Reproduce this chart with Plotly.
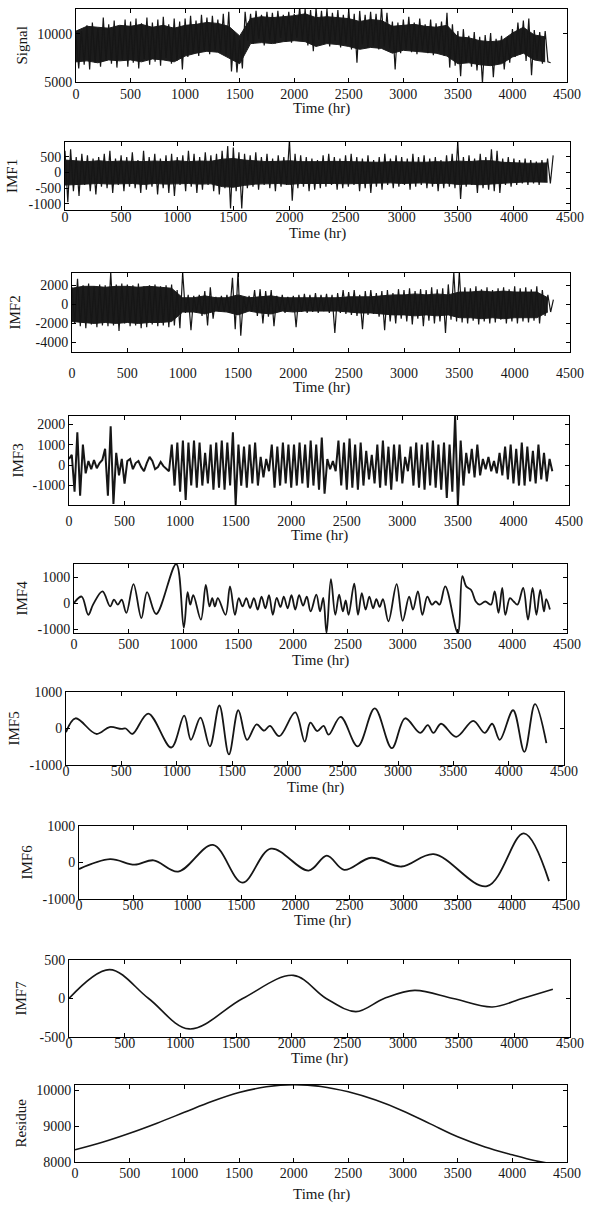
import plotly.graph_objects as go

# ------------------------------------------------------------------
# DATA
# ------------------------------------------------------------------
dense_step_hr = 25   # spacing (hr) of the sampled peak/trough series below
core_step_hr = 100   # spacing (hr) of the read solid-core limits below

signal = [
    9800, 6400, 10300, 6800, 10900, 6300, 11200, 7000, 10600, 6600, 11700, 7200, 11000, 6900, 11400, 6500, 10800, 7300, 11500, 6600,
    11300, 7000, 11600, 6400, 11100, 7400, 11700, 6800, 11200, 7100, 11500, 6700, 11800, 7500, 11000, 6900, 11600, 7200, 11300, 6300,
    11600, 7600, 11900, 8000, 11400, 7700, 12000, 8200, 11700, 7900, 11900, 8300, 11500, 8100, 12100, 7800, 12300, 6100, 10200, 6000,
    9400, 6400, 12300, 9300, 12100, 9000, 12400, 9500, 12000, 8800, 12300, 9400, 12200, 9000, 12400, 9600, 12000, 9200, 12300, 9100,
    12100, 9600, 12800, 9300, 12600, 8800, 12500, 8200, 12700, 9400, 12400, 9000, 12600, 8700, 12200, 9300, 12500, 8600, 12000, 9000,
    12600, 8400, 12100, 7000, 12400, 8900, 12000, 8600, 12300, 8800, 12100, 8400, 12800, 8700, 12200, 8500, 11300, 6300, 11200, 8000,
    11500, 8400, 11800, 8100, 11200, 7900, 11600, 8300, 11000, 8000, 11500, 7800, 11100, 8200, 11300, 7700, 12200, 6500, 11000, 6700,
    10300, 5600, 10500, 7000, 9800, 6600, 10200, 6200, 9700, 4900, 9900, 6800, 10100, 5500, 9500, 6900, 9800, 6300, 9600, 7000,
    10500, 7600, 11200, 7900, 11400, 7200, 11600, 5700, 10400, 7400, 10200, 6900, 10300, 7100, 7000,
]
signal_core_hi = [10300, 10800, 10700, 10600, 10900, 10800, 11000, 10700, 10900, 10600, 10900, 11000, 11200, 11100, 10800,
                  9800, 11600, 11800, 11700, 11800, 11900, 12100, 11700, 11800, 11700, 11600, 11300, 11500, 11400, 10800,
                  10900, 11000, 10800, 10700, 10900, 9700, 9600, 9300, 9200, 9300, 10100, 10700, 9900, 9700]
signal_core_lo = [7100, 7200, 7000, 7300, 7200, 7300, 7100, 7400, 7300, 7100, 7700, 8000, 8200, 8100, 7500,
                  6900, 9000, 9100, 9000, 9200, 9300, 9200, 8700, 9000, 8900, 8700, 8400, 8600, 8500, 8000,
                  8300, 8200, 8100, 8000, 7700, 6900, 7000, 6800, 6700, 6900, 7600, 8000, 7300, 7100]

imf1 = [
    700, -950, 750, -600, 500, -750, 600, -400, 550, -600, 450, -700, 500, -450, 600, -500, 700, -650, 450, -400,
    550, -600, 500, -450, 650, -500, 400, -650, 700, -550, 500, -450, 600, -700, 450, -500, 550, -650, 600, -750,
    500, -400, 550, -600, 700, -450, 600, -650, 500, -550, 650, -400, 550, -600, 600, -700, 700, -500, 850, -1150,
    800, -600, 650, -1150, 600, -500, 550, -450, 650, -550, 500, -400, 600, -500, 450, -600, 550, -450, 500, -400,
    1050, -900, 600, -500, 550, -450, 500, -600, 450, -550, 400, -500, 550, -450, 600, -400, 500, -550, 450, -500,
    550, -450, 600, -400, 500, -600, 450, -500, 550, -650, 400, -450, 500, -550, 600, -400, 450, -500, 550, -450,
    500, -400, 450, -550, 600, -450, 500, -400, 550, -500, 450, -450, 500, -600, 400, -500, 550, -450, 600, -500,
    1000, -850, 500, -450, 550, -400, 450, -650, 600, -500, 500, -550, 750, -600, 700, -650, 450, -400, 500, -450,
    450, -400, 400, -350, 450, -400, 400, -350, 350, -400, 400, -300, 450, -350, 550,
]
imf1_core_hi = [400, 370, 350, 380, 350, 370, 360, 350, 370, 350, 380, 350, 370, 360, 430, 450, 400, 370, 350, 360, 380, 350,
                340, 350, 360, 350, 340, 350, 330, 350, 340, 350, 330, 350, 340, 370, 350, 380, 380, 330, 310, 300, 300, 310]
imf1_core_lo = [-400, -380, -370, -350, -370, -360, -350, -380, -350, -370, -360, -350, -370, -360, -450, -470, -410, -370,
                -360, -350, -380, -350, -350, -340, -350, -360, -350, -340, -350, -330, -350, -340, -330, -350, -340, -380,
                -370, -390, -370, -340, -310, -300, -300, -310]

imf2 = [
    1800, -2000, 2700, -2300, 2000, -2500, 2200, -2100, 1900, -2400, 2100, -2200, 2000, -2300, 3400, -2200, 2100, -2800, 2200, -2000,
    2100, -2300, 2000, -2200, 2200, -2500, 1900, -2400, 2000, -2100, 2100, -2300, 1900, -2200, 2000, -2400, 2100, -2200, 1500, -2500,
    3400, -900, 1000, -2700, 900, -800, 1000, -1200, 1400, -2200, 1800, -1500, 800, -700, 900, -800, 1000, -900, 2800, -2600,
    3400, -3300, 800, -700, 900, -800, 1500, -1200, 1600, -2000, 1400, -1300, 1500, -2300, 900, -800, 1000, -900, 800, -700,
    900, -2400, 1000, -800, 1100, -900, 1000, -800, 1200, -900, 1000, -700, 1100, -900, 1000, -3000, 1200, -900, 1500, -1000,
    1300, -1100, 1500, -1200, 1000, -2600, 1400, -1100, 1500, -1000, 1200, -1300, 1400, -2700, 1500, -1800, 1200, -2000, 1600, -1500,
    1500, -1800, 1700, -2100, 1400, -1500, 1600, -2300, 1500, -1700, 1800, -2000, 1600, -1800, 1700, -3000, 2100, -1600, 3400, -1800,
    3400, -1900, 1800, -2000, 1700, -1700, 1900, -2100, 1600, -1800, 1800, -2000, 1500, -1900, 1700, -1600, 1800, -2000, 1600, -1800,
    1900, -2000, 1700, -1800, 1800, -1900, 1600, -1700, 1900, -2000, 1500, -1200, 1000, -800, 500,
]
imf2_core_hi = [1700, 1900, 1900, 1800, 1900, 1900, 1800, 1900, 1800, 1700, 700, 700, 900, 700, 700, 1000, 700, 800, 900, 700,
                700, 700, 700, 700, 700, 800, 800, 800, 900, 1000, 1000, 1100, 1000, 1100, 1000, 1300, 1300, 1400, 1300, 1400,
                1300, 1300, 1300, 700]
imf2_core_lo = [-1800, -1900, -2000, -1900, -2000, -1900, -2000, -1900, -1900, -1800, -800, -800, -1000, -700, -800, -1100,
                -700, -900, -1000, -700, -800, -700, -700, -700, -700, -800, -900, -900, -1000, -1100, -1100, -1200, -1100,
                -1200, -1100, -1400, -1400, -1500, -1400, -1500, -1400, -1400, -1400, -800]

imf3 = [
    300, 500, -1300, 1600, -1500, 1000, -400, 200, -200, 250, -150, 100, 250, 800, -1500, 1900, -1900, 600, -500, 300,
    -900, 200, 300, -200, 100, 200, -100, -300, 100, 400, 200, -200, -100, 150, -50, -200, -300, 1000, -1000, 1100,
    -1300, 1200, -1700, 1100, -1000, 1200, -1100, 1100, -1000, 600, -900, 1000, -1200, 1100, -1100, 1200, -1200, 1100, -1000, 1600,
    -1950, 1000, -1000, 900, -1100, 1000, -900, 1100, -1000, 400, -600, 300, -300, 1000, -1100, 900, -1000, 1100, -900, 1000,
    -1100, 1000, -1000, 1100, -900, 1000, -1100, 1200, -1000, 1000, -1200, 1350, -1400, 300, -200, 200, -300, 1200, -1000, 1100,
    -1200, 1300, -1100, 1000, -1200, 1100, -1000, 700, -700, 500, -900, 1000, -1100, 1200, -1000, 900, -1200, 1000, -800, 1000,
    -900, 400, -300, 900, -1000, 1100, -1100, 1000, -1200, 1100, -1000, 1200, -1100, 1000, -1200, 1100, -1600, 1000, -1300, 2400,
    -1950, 1200, -1000, 600, -400, 800, -600, 1000, -500, 300, -200, 400, -300, 200, -400, 600, -500, 900, -700, 1000,
    -900, 800, -1000, 1100, -1000, 900, -800, 700, -900, 1000, -700, 600, -800, 300, -300,
]

imf4_t = [0, 70, 130, 175, 260, 330, 365, 400, 435, 478, 543, 615, 667, 750, 933, 1002, 1037, 1061, 1089,
          1158, 1203, 1237, 1262, 1286, 1313, 1383, 1424, 1469, 1504, 1538, 1573, 1607, 1642, 1677, 1712,
          1747, 1780, 1815, 1850, 1885, 1915, 1950, 1985, 2020, 2055, 2091, 2125, 2160, 2212, 2246, 2275,
          2305, 2345, 2385, 2420, 2454, 2480, 2506, 2558, 2592, 2627, 2662, 2696, 2730, 2760, 2790, 2820,
          2870, 2945, 3000, 3059, 3094, 3139, 3180, 3225, 3267, 3302, 3337, 3389, 3503, 3545, 3580, 3625,
          3667, 3702, 3754, 3806, 3840, 3875, 3909, 3937, 3979, 4013, 4048, 4100, 4144, 4186, 4221, 4256,
          4290, 4310, 4344]
imf4_v = [0, 250, -450, -50, 450, -130, 130, -60, 130, -380, 730, -580, 420, -420, 1500, -950, 420, -60, 300,
          -640, 700, -130, 190, -130, 190, -450, 640, -450, 190, -130, 190, -190, 190, -250, 250,
          -200, 300, -450, 200, -150, 250, -200, 300, -250, 300, -100, 250, -320, 320, -320, 200,
          -1150, 920, -450, 320, -320, 100, -450, 750, -450, 380, -250, 250, -200, 150, -150, 150,
          -700, 730, -680, 250, -250, 450, -450, 250, -60, 60, -60, 640, -1150, 1030, 640, 500,
          60, -60, 60, -60, 450, -380, 580, -450, 190, 60, -60, 580, -640, 580, -450, 510,
          -320, 150, -250]

imf5_t = [0, 86, 274, 394, 500, 540, 600, 743, 951, 1068, 1129, 1215, 1300, 1386, 1472, 1557, 1636, 1722,
          1790, 1842, 1927, 2071, 2157, 2208, 2270, 2328, 2373, 2482, 2636, 2790, 2944, 3064, 3200, 3269,
          3320, 3389, 3526, 3680, 3783, 3851, 3920, 4040, 4142, 4238, 4341]
imf5_v = [-100, 280, -150, 40, -10, 0, -150, 410, -520, 350, -310, 300, -490, 630, -710, 500, -310, 110,
          -60, 70, -210, 440, -360, 160, -70, 70, -170, 320, -490, 550, -540, 280, -120, 90,
          -120, 130, -230, 210, -120, 130, -310, 500, -640, 670, -400]

imf6_t = [0, 287, 514, 689, 916, 1238, 1510, 1773, 2122, 2290, 2450, 2700, 2980, 3277, 3770, 4110, 4343]
imf6_v = [-180, 90, -60, 60, -250, 480, -550, 380, -220, 190, -200, 130, -110, 230, -650, 800, -510]

imf7_t = [0, 364, 715, 1079, 1560, 2015, 2310, 2577, 2830, 3104, 3450, 3802, 4070, 4346]
imf7_v = [0, 375, 0, -395, 0, 300, 0, -170, 0, 105, 0, -110, 0, 120]

residue_t = [0, 250, 500, 750, 1000, 1250, 1500, 1750, 2000, 2250, 2500, 2750, 3000, 3250, 3500, 3750, 4000, 4200, 4344]
residue_v = [8340, 8550, 8800, 9080, 9380, 9680, 9930, 10090, 10150, 10100, 9950, 9720, 9420, 9060, 8700, 8420, 8200, 8040, 7960]

x_tick_vals = [0, 500, 1000, 1500, 2000, 2500, 3000, 3500, 4000, 4500]
x_tick_text = ['0', '500', '1000', '1500', '2000', '2500', '3000', '3500', '4000', '4500']

signal_ticks = [5000, 10000]
signal_tick_text = ['5000', '10000']
imf1_ticks = [-1000, -500, 0, 500]
imf1_tick_text = ['-1000', '-500', '0', '500']
imf2_ticks = [-4000, -2000, 0, 2000]
imf2_tick_text = ['-4000', '-2000', '0', '2000']
imf3_ticks = [-1000, 0, 1000, 2000]
imf3_tick_text = ['-1000', '0', '1000', '2000']
imf4_ticks = [-1000, 0, 1000]
imf4_tick_text = ['-1000', '0', '1000']
imf5_ticks = [-1000, 0, 1000]
imf5_tick_text = ['-1000', '0', '1000']
imf6_ticks = [-1000, 0, 1000]
imf6_tick_text = ['-1000', '0', '1000']
imf7_ticks = [-500, 0, 500]
imf7_tick_text = ['-500', '0', '500']
residue_ticks = [8000, 9000, 10000]
residue_tick_text = ['8000', '9000', '10000']

x_title = 'Time (hr)'

# ------------------------------------------------------------------
# LAYOUT / STYLE
# ------------------------------------------------------------------
W, H = 595, 1208
FONT = 'Liberation Serif'
INK = '#161616'
BAND = '#1c1c1c'


def times(vals, step):
    return [step * i for i in range(len(vals))]


panels = [
    # title, x, y, core(hi, lo), yticks, ytext, yrange, (left, right, top, bottom), shape, width, ytitle_x, standoff, title_y
    ('Signal', None, signal, (signal_core_hi, signal_core_lo), signal_ticks, signal_tick_text, [5000, 12600], (76, 567, 9, 82), 'linear', 1.2, 21, -1, 109),
    ('IMF1', None, imf1, (imf1_core_hi, imf1_core_lo), imf1_ticks, imf1_tick_text, [-1200, 980], (65, 570, 142, 210), 'linear', 1.2, 12, -6, 233),
    ('IMF2', None, imf2, (imf2_core_hi, imf2_core_lo), imf2_ticks, imf2_tick_text, [-5000, 3300], (72, 570, 273, 352), 'linear', 1.2, 15, 8, 388),
    ('IMF3', None, imf3, None, imf3_ticks, imf3_tick_text, [-1950, 2400], (69, 569, 416, 505), 'linear', 2.0, 17, 3, 535),
    ('IMF4', imf4_t, imf4_v, None, imf4_ticks, imf4_tick_text, [-1150, 1500], (74, 567, 564, 633), 'spline', 1.8, 21, -2, 660),
    ('IMF5', imf5_t, imf5_v, None, imf5_ticks, imf5_tick_text, [-1000, 1000], (66, 564, 692, 765), 'spline', 1.8, 13, -7, 787),
    ('IMF6', imf6_t, imf6_v, None, imf6_ticks, imf6_tick_text, [-1000, 1000], (79, 566, 826, 899), 'spline', 1.8, 26, -7, 920),
    ('IMF7', imf7_t, imf7_v, None, imf7_ticks, imf7_tick_text, [-500, 500], (69, 570, 960, 1037), 'spline', 1.6, 20, -7, 1058),
    ('Residue', residue_t, residue_v, None, residue_ticks, residue_tick_text, [8000, 10140], (75, 567, 1085, 1162), 'spline', 1.6, 20, -2, 1194),
]

fig = go.Figure()
layout = dict(
    width=W, height=H,
    margin=dict(l=0, r=0, t=0, b=0),
    paper_bgcolor='white', plot_bgcolor='white',
    showlegend=False,
    font=dict(family=FONT, size=14, color=INK),
    annotations=[],
)

for i, (name, xs, ys, core, yt, ytt, yr, box, shape, lw, ytx, standoff, title_y) in enumerate(panels, start=1):
    left, right, top, bottom = box
    xa = 'x' if i == 1 else f'x{i}'
    ya = 'y' if i == 1 else f'y{i}'
    if xs is None:
        xs = times(ys, dense_step_hr)
    if core is not None:
        core_hi, core_lo = core
        ct = times(core_hi, core_step_hr)
        fig.add_trace(go.Scatter(x=ct, y=core_hi, mode='lines', line=dict(color=BAND, width=1),
                                 xaxis=xa, yaxis=ya, hoverinfo='skip'))
        fig.add_trace(go.Scatter(x=ct, y=core_lo, mode='lines', line=dict(color=BAND, width=1),
                                 fill='tonexty', fillcolor=BAND, xaxis=xa, yaxis=ya, hoverinfo='skip'))
    line = dict(color=INK, width=lw, shape=shape)
    if shape == 'spline':
        line['smoothing'] = 1.0
    fig.add_trace(go.Scatter(x=xs, y=ys, mode='lines', line=line, xaxis=xa, yaxis=ya,
                             hoverinfo='skip'))
    common = dict(showline=True, linecolor='black', linewidth=1, mirror='ticks',
                  ticks='inside', ticklen=4, tickwidth=1, tickcolor='black',
                  showgrid=False, zeroline=False, automargin=False,
                  tickfont=dict(family=FONT, size=14, color=INK))
    layout['xaxis' if i == 1 else f'xaxis{i}'] = dict(
        common, domain=[left / W, right / W], range=[0, 4500],
        tickmode='array', tickvals=x_tick_vals, ticktext=x_tick_text,
        anchor=ya, ticklabelstandoff=standoff)
    layout['yaxis' if i == 1 else f'yaxis{i}'] = dict(
        common, domain=[1 - bottom / H, 1 - top / H], range=yr,
        tickmode='array', tickvals=yt, ticktext=ytt, anchor=xa)
    layout['annotations'].append(dict(
        text=x_title, xref='paper', yref='paper', x=(left + right) / 2 / W, y=1 - title_y / H,
        xanchor='center', yanchor='middle', showarrow=False,
        font=dict(family=FONT, size=15, color=INK)))
    layout['annotations'].append(dict(
        text=name, xref='paper', yref='paper', x=ytx / W, y=1 - (top + bottom) / 2 / H,
        xanchor='center', yanchor='middle', showarrow=False, textangle=-90,
        font=dict(family=FONT, size=15, color=INK)))

fig.update_layout(**layout)
fig.write_html('out.html',
               config={'displayModeBar': False, 'staticPlot': True},
               post_script="document.body.style.margin='0';document.body.style.padding='0';")
